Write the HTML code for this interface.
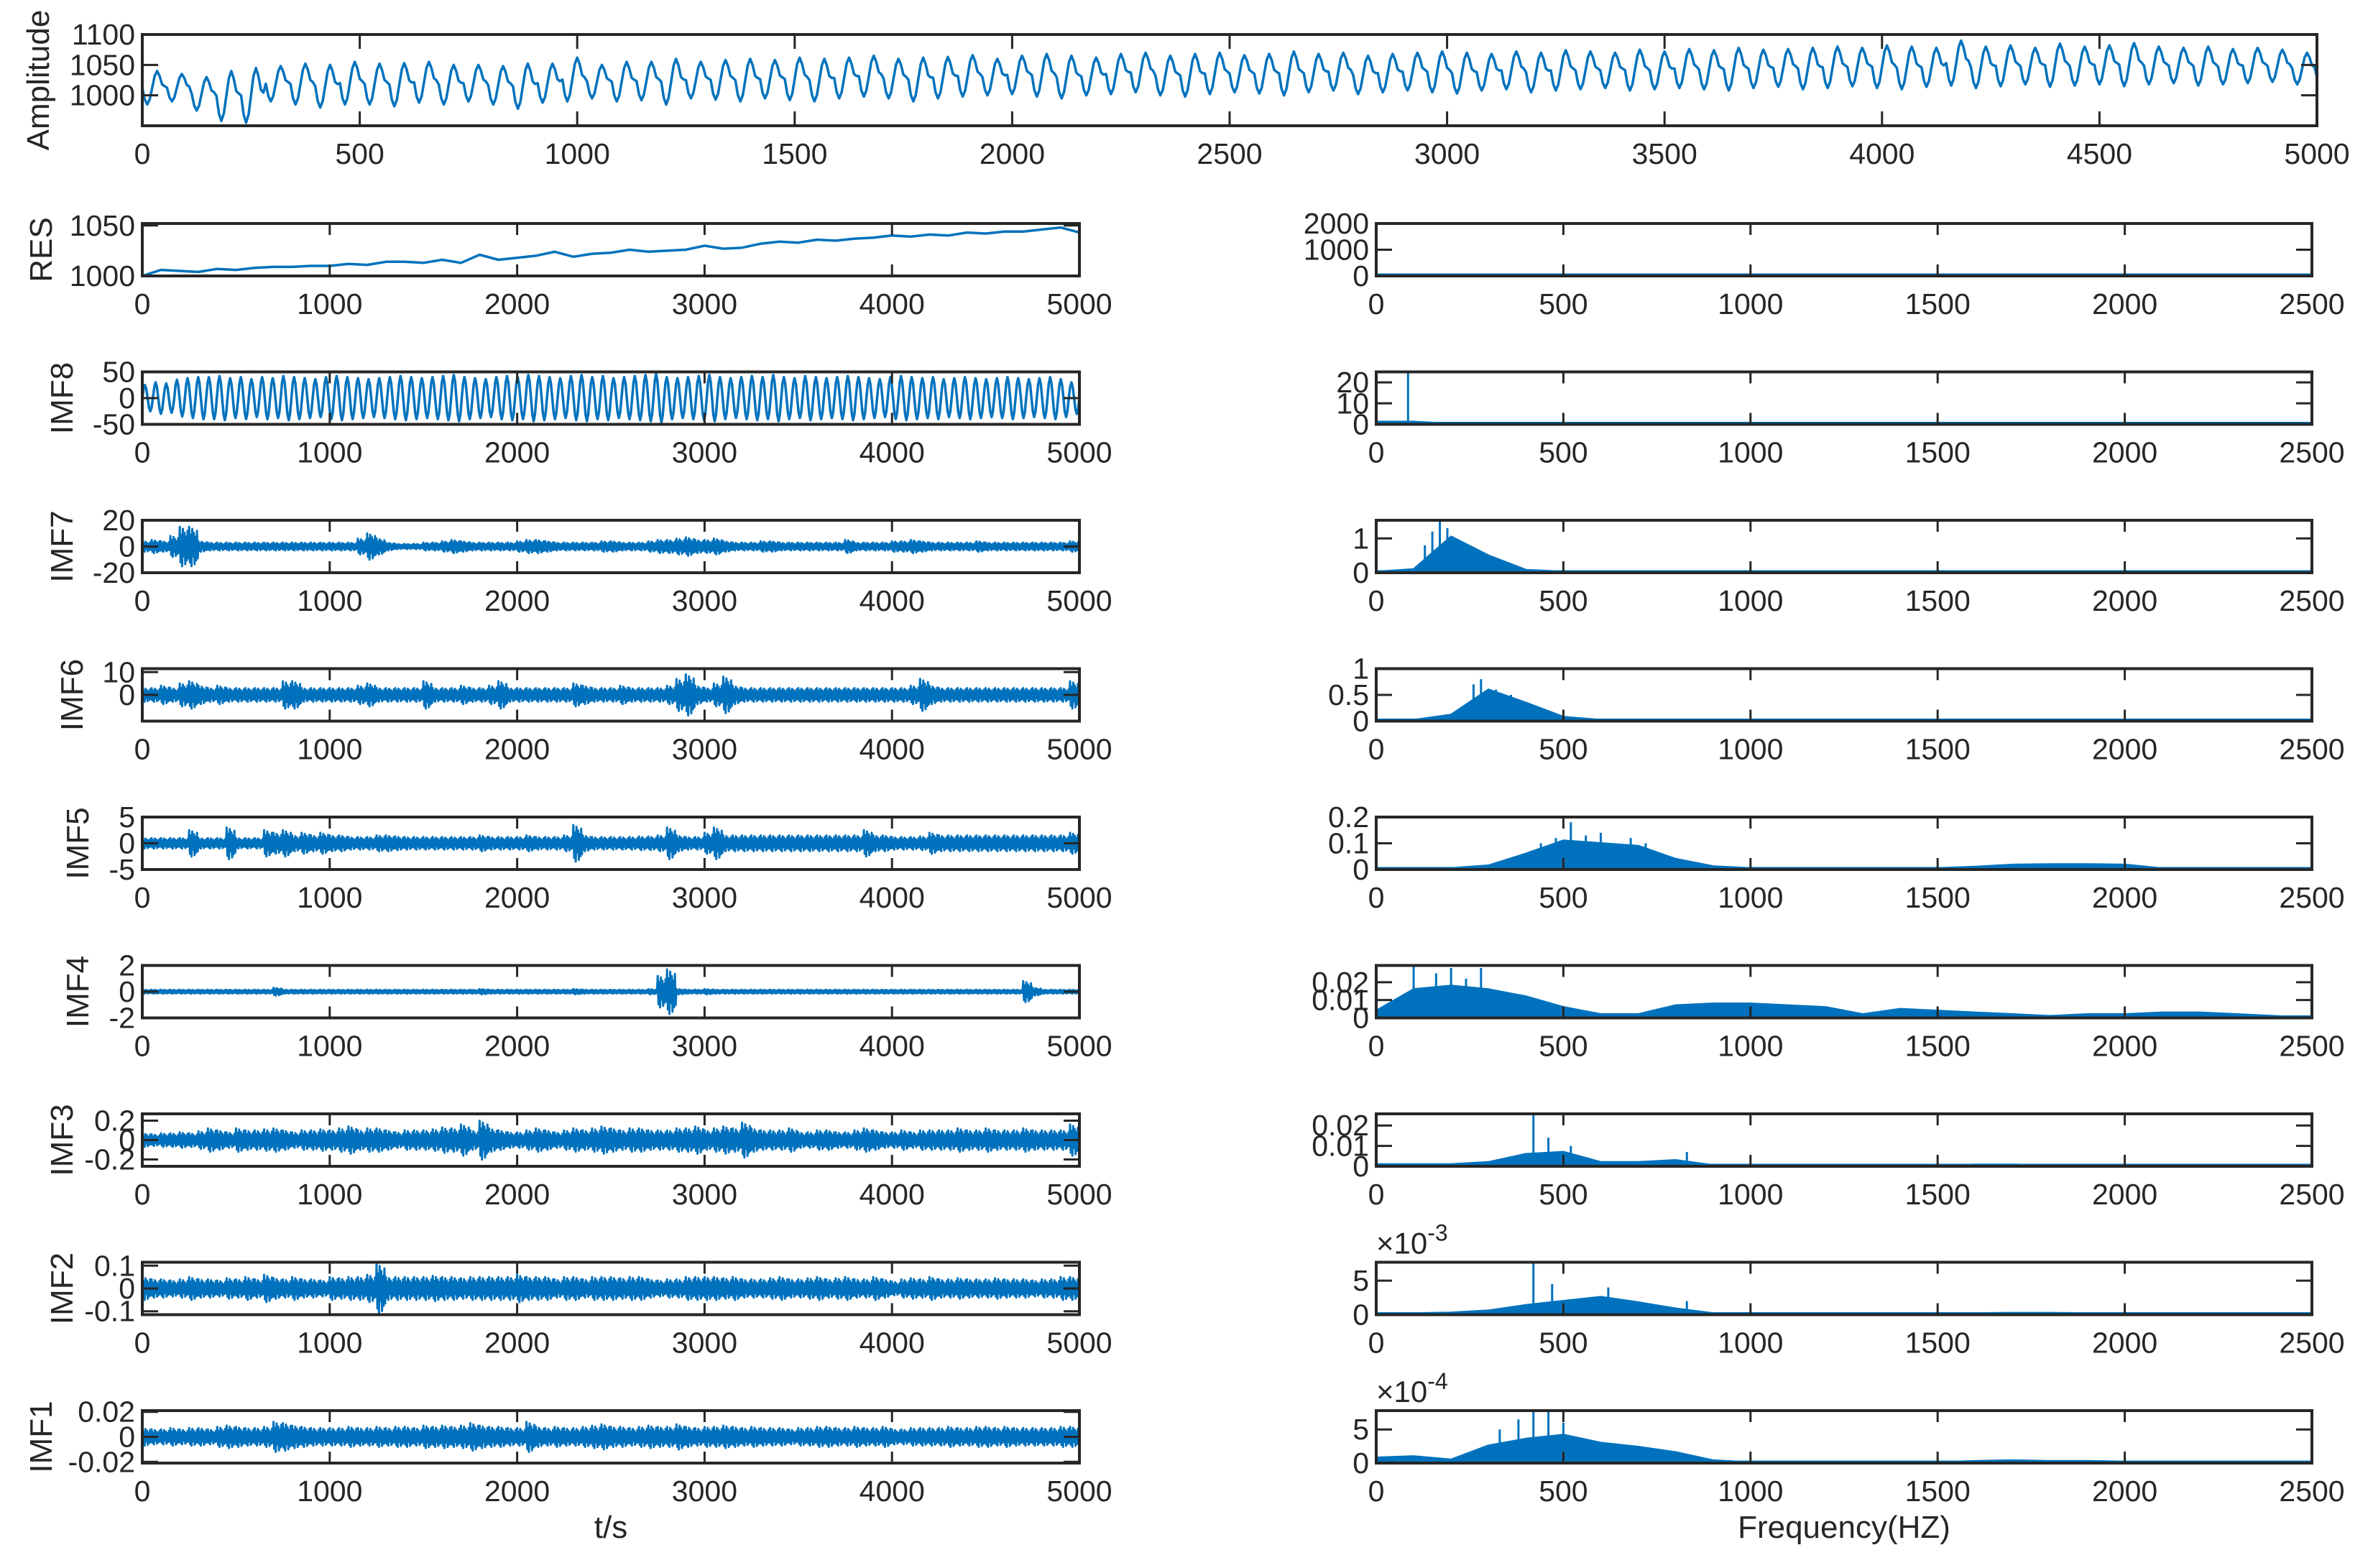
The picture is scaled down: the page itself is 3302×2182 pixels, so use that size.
<!DOCTYPE html>
<html><head><meta charset="utf-8">
<style>
html,body{margin:0;padding:0;background:#fff;}
svg{display:block;}
text{font-family:"Liberation Sans",Arial,sans-serif;fill:#262626;}
</style></head>
<body>
<svg id="fig" width="3302" height="2182" viewBox="0 0 3302 2182" xmlns="http://www.w3.org/2000/svg"></svg>
<script>
// ---------------- DATA ----------------
const topPeaks = [1040,1035,1030,1040,1045,1048,1052,1050,1055,1052,1053,1055,1050,1050,1048,1052,1052,1062,1050,1055,1055,1060,1055,1058,1060,1058,1062,1060,1062,1065,1060,1062,1063,1066,1060,1065,1068,1065,1062,1068,1070,1065,1068,1070,1066,1068,1072,1068,1070,1065,1068,1070,1072,1070,1068,1072,1070,1074,1072,1070,1075,1072,1076,1074,1078,1075,1076,1078,1080,1078,1082,1080,1078,1090,1080,1082,1078,1085,1080,1082,1086,1080,1078,1080,1076,1078,1075,1070];
const topTroughs = [985,990,975,958,955,990,985,980,985,985,982,988,985,990,985,978,988,990,995,990,992,985,995,993,990,995,992,990,995,998,995,990,995,998,1000,1002,998,995,1000,1002,1005,1000,998,1002,1005,1003,1000,1005,1008,1002,1005,1008,1005,1003,1008,1010,1005,1008,1010,1012,1008,1010,1012,1010,1008,1012,1014,1010,1012,1015,1012,1010,1014,1016,1012,1015,1018,1014,1016,1018,1015,1018,1020,1016,1018,1020,1022,1018];
const resValues = [1000,1006,1005,1004,1007,1006,1008,1009,1009,1010,1010,1012,1011,1014,1014,1013,1016,1013,1021,1016,1018,1020,1024,1019,1022,1023,1026,1024,1025,1026,1030,1027,1028,1032,1034,1033,1036,1035,1037,1038,1040,1039,1041,1040,1043,1042,1044,1044,1046,1048,1043];
const imf8Amps = [25,30,28,35,38,40,40,42,38,40,36,40,38,42,40,38,36,40,42,40,38,36,38,40,42,40,38,40,42,44,40,38,36,40,42,40,44,42,40,38,42,44,40,42,38,40,42,44,46,40,38,40,42,44,40,38,40,42,40,44,40,38,42,40,38,40,42,40,38,36,40,42,40,38,40,36,38,40,38,36,38,40,38,36,38,40,36,30];
const imf7Env = [4,5,4,8,15,15,4,3,3,3, 3,3,3,3,3,3,3,3,3,3, 3,3,3,6,10,6,3,2,2,2, 3,3,4,5,4,3,3,3,3,3, 4,5,5,4,3,3,3,3,3,4, 4,3,3,3,4,5,5,6,7,5, 5,6,4,3,3,3,4,4,3,3, 3,3,3,3,3,5,3,3,3,3, 4,4,5,4,3,3,3,3,3,4, 3,3,3,3,3,3,3,3,3,4];
const imf6Env = [3,3,4,3,5,6,4,3,4,3, 3,3,3,3,3,6,6,3,3,3, 3,3,3,4,5,3,3,3,3,3, 6,3,3,3,4,3,3,4,6,3, 3,3,3,3,3,3,5,4,3,3, 3,4,3,3,3,3,4,7,9,4, 3,5,8,4,3,3,3,3,3,3, 3,3,3,3,3,3,3,3,3,3, 3,3,4,7,4,3,3,3,3,3, 3,3,3,3,3,3,3,3,3,6];
const imf5Env = [1,1,1,1,1,2.5,1,1,1,3, 1,1,1,2.5,2,2.5,1.5,2,1.5,2, 1.5,1.5,1.2,1.2,1.2,1.5,1.5,1.3,1.2,1.2, 1.2,1.2,1.2,1.2,1.2,1.2,1.5,1.2,1.2,1.2, 1.2,1.5,1.2,1.2,1.2,1.5,3.5,1.5,1.2,1.2, 1.2,1.2,1.2,1.3,1.3,1.5,3,1.5,1.2,1.2, 2,3,1.5,1.5,1.5,1.5,1.5,1.5,1.5,1.5, 1.5,1.5,1.5,1.5,1.5,1.5,1.5,2.5,1.5,1.5, 1.2,1.2,1.2,1.3,2,1.5,1.5,1.5,1.5,1.5, 1.5,1.5,1.5,1.5,1.5,1.5,1.5,1.5,1.5,2];
const imf4Env = [0.15,0.15,0.15,0.15,0.15,0.15,0.15,0.15,0.15,0.15, 0.15,0.15,0.15,0.15,0.3,0.15,0.15,0.15,0.15,0.15, 0.15,0.15,0.15,0.15,0.15,0.15,0.15,0.15,0.15,0.15, 0.15,0.15,0.15,0.15,0.15,0.15,0.2,0.15,0.15,0.15, 0.15,0.15,0.15,0.15,0.15,0.15,0.2,0.15,0.15,0.15, 0.15,0.15,0.15,0.15,0.2,1.2,1.7,0.2,0.15,0.15, 0.2,0.15,0.15,0.15,0.15,0.15,0.15,0.15,0.15,0.15, 0.15,0.15,0.15,0.15,0.15,0.15,0.15,0.15,0.15,0.15, 0.15,0.15,0.15,0.15,0.15,0.15,0.15,0.15,0.15,0.15, 0.15,0.15,0.15,0.15,0.8,0.3,0.15,0.15,0.15,0.15];
const imf3Env = [0.07,0.06,0.07,0.07,0.08,0.07,0.09,0.12,0.1,0.08, 0.12,0.1,0.1,0.11,0.12,0.1,0.08,0.1,0.1,0.11, 0.1,0.12,0.14,0.1,0.12,0.12,0.1,0.08,0.1,0.1, 0.1,0.11,0.13,0.12,0.16,0.1,0.2,0.12,0.1,0.08, 0.08,0.1,0.12,0.1,0.08,0.1,0.12,0.1,0.12,0.14, 0.12,0.1,0.12,0.12,0.1,0.1,0.1,0.12,0.12,0.14, 0.1,0.12,0.14,0.12,0.18,0.12,0.1,0.1,0.1,0.12, 0.08,0.08,0.1,0.1,0.08,0.08,0.1,0.12,0.1,0.08, 0.08,0.1,0.08,0.1,0.1,0.1,0.1,0.12,0.1,0.1, 0.12,0.1,0.1,0.1,0.12,0.1,0.1,0.1,0.1,0.16];
const imf2Env = [0.05,0.04,0.04,0.035,0.04,0.05,0.04,0.04,0.035,0.045, 0.04,0.05,0.04,0.06,0.045,0.04,0.05,0.04,0.04,0.035, 0.05,0.045,0.05,0.05,0.06,0.11,0.05,0.05,0.05,0.05, 0.05,0.055,0.05,0.05,0.045,0.05,0.05,0.05,0.05,0.05, 0.06,0.05,0.05,0.05,0.04,0.05,0.05,0.04,0.05,0.05, 0.05,0.045,0.05,0.05,0.04,0.035,0.04,0.04,0.05,0.05, 0.05,0.05,0.045,0.05,0.04,0.04,0.04,0.045,0.05,0.04, 0.04,0.045,0.05,0.04,0.045,0.05,0.04,0.04,0.05,0.04, 0.03,0.04,0.045,0.04,0.05,0.04,0.04,0.045,0.04,0.04, 0.04,0.045,0.04,0.04,0.04,0.035,0.04,0.04,0.05,0.05];
const imf1Env = [0.007,0.006,0.006,0.007,0.006,0.007,0.007,0.006,0.008,0.009, 0.008,0.007,0.007,0.008,0.012,0.011,0.009,0.008,0.007,0.007, 0.007,0.007,0.008,0.007,0.007,0.008,0.007,0.008,0.008,0.007, 0.009,0.008,0.009,0.008,0.009,0.011,0.009,0.008,0.008,0.007, 0.007,0.012,0.008,0.007,0.008,0.007,0.007,0.008,0.009,0.01, 0.008,0.008,0.007,0.008,0.009,0.008,0.008,0.01,0.008,0.007, 0.008,0.008,0.009,0.008,0.007,0.008,0.007,0.007,0.007,0.006, 0.007,0.007,0.008,0.008,0.007,0.007,0.008,0.007,0.007,0.008, 0.006,0.006,0.007,0.007,0.007,0.007,0.008,0.007,0.007,0.008, 0.008,0.007,0.008,0.007,0.007,0.007,0.007,0.007,0.008,0.008];
// spectra envelopes, every 100 Hz from 0 to 2500 (26 values)
const resSpec   = [0,0,0,0,0,0,0,0,0,0,0,0,0,0,0,0,0,0,0,0,0,0,0,0,0,0];
const resSpikes = [[0,2000]];
const imf8Spec  = [1.2,1.2,0.3,0,0,0,0,0,0,0,0,0,0,0,0,0,0,0,0,0,0,0,0,0,0,0];
const imf8Spikes = [[85,25]];
const imf7Spec  = [0.03,0.1,1.05,0.5,0.08,0.03,0.01,0,0,0,0,0,0,0,0,0,0,0,0,0,0,0,0,0,0,0];
const imf7Spikes = [[170,1.53],[150,1.2],[190,1.3],[230,0.75],[130,0.8]];
const imf6Spec  = [0.02,0.02,0.12,0.6,0.35,0.08,0.02,0,0,0,0,0,0,0,0,0,0,0,0,0,0,0,0,0,0,0];
const imf6Spikes = [[280,0.8],[260,0.7],[320,0.6],[360,0.5]];
const imf5Spec  = [0.003,0.003,0.005,0.015,0.06,0.11,0.1,0.09,0.04,0.012,0.005,0.004,0.003,0.003,0.003,0.005,0.01,0.018,0.02,0.02,0.018,0.004,0.002,0.002,0.002,0.002];
const imf5Spikes = [[520,0.18],[600,0.14],[480,0.12],[680,0.12],[720,0.1],[440,0.1],[560,0.13]];
const imf4Spec  = [0.004,0.016,0.018,0.016,0.012,0.006,0.002,0.002,0.007,0.008,0.008,0.007,0.006,0.002,0.005,0.004,0.003,0.002,0.001,0.002,0.002,0.003,0.003,0.002,0.001,0.0];
const imf4Spikes = [[100,0.03],[200,0.028],[280,0.028],[160,0.025],[240,0.022]];
const imf3Spec  = [0.001,0.001,0.001,0.002,0.006,0.007,0.002,0.002,0.003,0.0005,0.0003,0.0003,0.0003,0.0003,0.0003,0.0003,0.0008,0.0008,0.0005,0.0005,0.0005,0.0003,0.0003,0.0003,0.0003,0.0003];
const imf3Spikes = [[420,0.0257],[460,0.014],[520,0.01],[830,0.007]];
const imf2Spec  = [0.2,0.2,0.3,0.6,1.4,2.0,2.6,1.8,0.9,0.2,0.05,0.05,0.05,0.05,0.05,0.05,0.2,0.25,0.25,0.2,0.15,0.05,0.05,0.05,0.05,0.05];
const imf2Spikes = [[420,7.7],[470,4.5],[620,4],[830,2]];
const imf1Spec  = [0.8,1.0,0.5,2.6,3.6,4.2,3.0,2.4,1.6,0.4,0.1,0.05,0.05,0.05,0.05,0.1,0.3,0.4,0.3,0.3,0.2,0.1,0.1,0.05,0.05,0.05];
const imf1Spikes = [[420,7.8],[460,7.6],[500,6],[380,6.5],[330,5]];
// tick labels
const topXTicks = [0,500,1000,1500,2000,2500,3000,3500,4000,4500,5000];
const leftXTicks = [0,1000,2000,3000,4000,5000];
const rightXTicks = [0,500,1000,1500,2000,2500];
const topYTicks = [1000,1050,1100];

// ---------------- DRAWING ----------------
const svg = document.getElementById('fig');
const NS = 'http://www.w3.org/2000/svg';
const BLUE = '#0072BD', AX = '#262626';
let clipId = 0;
function mk(tag, attrs, parent) {
  const e = document.createElementNS(NS, tag);
  for (const k in attrs) e.setAttribute(k, attrs[k]);
  (parent || svg).appendChild(e);
  return e;
}
function fmt(v){ return String(v); }
const defs = mk('defs', {});

function makeAxes(o) {
  const g = mk('g', {});
  
  
  const sx = v => o.x0 + (v - o.xmin) / (o.xmax - o.xmin) * (o.x1 - o.x0);
  const sy = v => o.y1 - (v - o.ymin) / (o.ymax - o.ymin) * (o.y1 - o.y0);
  const cid = 'clip' + (clipId++);
  const cp = mk('clipPath', {id: cid}, defs);
  mk('rect', {x:o.x0, y:o.y0 - 2, width:o.x1 - o.x0, height:o.y1 - o.y0 + 2}, cp);
  const plot = mk('g', {'clip-path': `url(#${cid})`}, g);
  
  
  const axg = mk('g', {}, g);
  
  
  const tl = o.tickLen || 18;
  o.xticks.forEach(t => {
    const x = sx(t);
    mk('line', {x1:x, y1:o.y1, x2:x, y2:o.y1 - tl, stroke:AX, 'stroke-width':3}, axg);
    mk('line', {x1:x, y1:o.y0, x2:x, y2:o.y0 + tl, stroke:AX, 'stroke-width':3}, axg);
    const tx = mk('text', {x:x, y:o.y1 + 53, 'font-size':41, 'text-anchor':'middle'}, axg);
    
    
    tx.textContent = fmt(t);
  });
  o.yticks.forEach((t, i) => {
    const y = sy(t);
    mk('line', {x1:o.x0, y1:y, x2:o.x0 + 22, y2:y, stroke:AX, 'stroke-width':3}, axg);
    mk('line', {x1:o.x1, y1:y, x2:o.x1 - 22, y2:y, stroke:AX, 'stroke-width':3}, axg);
    const ty = mk('text', {x:o.x0 - 10, y:y + 14, 'font-size':41, 'text-anchor':'end'}, axg);
    
    
    ty.textContent = o.ylabels ? o.ylabels[i] : fmt(t);
  });
  mk('rect', {x:o.x0, y:o.y0, width:o.x1 - o.x0, height:o.y1 - o.y0, fill:'none', stroke:AX, 'stroke-width':4}, axg);
  if (o.ylabel) {
    const yl = mk('text', {x:0, y:0, 'font-size':44, 'text-anchor':'middle', transform:`translate(${o.ylx},${(o.y0+o.y1)/2}) rotate(-90)`}, axg);
    
    
    yl.textContent = o.ylabel;
  }
  if (o.exponent) {
    const ex = mk('text', {x:o.x0, y:o.y0 - 12, 'font-size':42}, axg);
    
    
    ex.textContent = '\u00d710';
    const sup = mk('tspan', {dy:-18, 'font-size':32}, ex);
    sup.textContent = o.exponent;
  }
  return {plot, sx, sy};
}

function polyline(parent, pts, name, w) {
  const p = mk('polyline', {points: pts.map(p => p[0].toFixed(1)+','+p[1].toFixed(1)).join(' '), fill:'none', stroke:BLUE, 'stroke-width':w||3, 'stroke-linejoin':'round'}, parent);
  
  
  return p;
}

const cycleShape = [[0,0.5],[0.1,0.15],[0.2,0],[0.3,0.15],[0.4,0.5],[0.5,0.85],[0.6,1],[0.7,0.85],[0.8,0.6],[0.9,0.55]];
{
  const a = makeAxes({name:'original-signal-panel', x0:198, x1:3224, y0:48, y1:175, xmin:0, xmax:5000, ymin:950, ymax:1100,
    xticks:topXTicks, yticks:topYTicks, ylabel:'Amplitude', ylx:68, tickLen:20});
  const n = topPeaks.length, per = 5000 / n;
  const pts = [];
  for (let i = 0; i < n; i++) {
    cycleShape.forEach(s => {
      pts.push([a.sx(per*(i + s[0])), a.sy(topTroughs[i] + s[1]*(topPeaks[i]-topTroughs[i]))]);
    });
  }
  pts.push([a.sx(5000), a.sy(1030)]);
  polyline(a.plot, pts, 'original-signal-line', 3.5);
}

const LX0 = 198, LX1 = 1502, RX0 = 1915, RX1 = 3217, T0 = 311, DT = 206.5, H = 73;
const rows = [
  {lab:'RES', ylx:72, yl:[1000,1052], yt:[1000,1050], sl:[0,2000], st:[0,1000,2000], spec:resSpec, spikes:resSpikes},
  {lab:'IMF8', ylx:101, yl:[-50,50], yt:[-50,0,50], sl:[0,25], st:[0,10,20], spec:imf8Spec, spikes:imf8Spikes},
  {lab:'IMF7', ylx:101, yl:[-20,20], yt:[-20,0,20], sl:[0,1.53], st:[0,1], spec:imf7Spec, spikes:imf7Spikes, env:imf7Env},
  {lab:'IMF6', ylx:115, yl:[-11.5,11.5], yt:[0,10], sl:[0,1], st:[0,0.5,1], spec:imf6Spec, spikes:imf6Spikes, env:imf6Env},
  {lab:'IMF5', ylx:123, yl:[-5,5], yt:[-5,0,5], sl:[0,0.2], st:[0,0.1,0.2], spec:imf5Spec, spikes:imf5Spikes, env:imf5Env},
  {lab:'IMF4', ylx:123, yl:[-2,2], yt:[-2,0,2], sl:[0,0.0294], st:[0,0.01,0.02], spec:imf4Spec, spikes:imf4Spikes, env:imf4Env},
  {lab:'IMF3', ylx:101, yl:[-0.27,0.27], yt:[-0.2,0,0.2], sl:[0,0.0257], st:[0,0.01,0.02], spec:imf3Spec, spikes:imf3Spikes, env:imf3Env},
  {lab:'IMF2', ylx:101, yl:[-0.115,0.115], yt:[-0.1,0,0.1], sl:[0,7.7], st:[0,5], spec:imf2Spec, spikes:imf2Spikes, env:imf2Env, exp:'-3'},
  {lab:'IMF1', ylx:72, yl:[-0.021,0.021], yt:[-0.02,0,0.02], sl:[0,7.8], st:[0,5], spec:imf1Spec, spikes:imf1Spikes, env:imf1Env, exp:'-4'}
];
const zig = [1,-0.8,0.6,-1,0.9,-0.5,0.7,-0.9,0.5,-0.7,0.8,-0.6];
const sineShape = [0,0.7,1,0.7,0,-0.7,-1,-0.7];

rows.forEach((r, i) => {
  const y0 = T0 + i*DT, y1 = y0 + H;
  const key = r.lab.toLowerCase();
  const a = makeAxes({name:key+'-time-panel', x0:LX0, x1:LX1, y0, y1, xmin:0, xmax:5000, ymin:r.yl[0], ymax:r.yl[1],
    xticks:leftXTicks, yticks:r.yt, ylabel:r.lab, ylx:r.ylx, tickLen:16});
  if (r.lab === 'RES') {
    const step = 5000 / (resValues.length - 1);
    polyline(a.plot, resValues.map((v,k) => [a.sx(k*step), a.sy(v)]), 'res-line', 3.5);
  } else if (r.lab === 'IMF8') {
    const per = 5000 / imf8Amps.length, pts = [];
    imf8Amps.forEach((amp,k) => {
      sineShape.forEach((s,j) => pts.push([a.sx(per*(k + j/sineShape.length)), a.sy(amp*s)]));
    });
    pts.push([a.sx(5000), a.sy(0)]);
    polyline(a.plot, pts, 'imf8-line', 3.5);
  } else {
    const step = 5000 / r.env.length, pts = [];
    r.env.forEach((e,k) => {
      zig.forEach((z,j) => pts.push([a.sx(k*step + step*j/zig.length), a.sy(e*z)]));
    });
    polyline(a.plot, pts, key+'-line', 3);
  }
  const ylabs = r.st.map(v => String(v));
  const b = makeAxes({name:key+'-spectrum-panel', x0:RX0, x1:RX1, y0, y1, xmin:0, xmax:2500, ymin:r.sl[0], ymax:r.sl[1],
    xticks:rightXTicks, yticks:r.st, ylabels:ylabs, tickLen:16, exponent:r.exp});
  const sstep = 2500 / (r.spec.length - 1);
  const spts = r.spec.map((v,k) => [b.sx(k*sstep), b.sy(v)]);
  const area = mk('polygon', {points: [[b.sx(0), b.sy(0)]].concat(spts, [[b.sx(2500), b.sy(0)]]).map(p=>p[0].toFixed(1)+','+p[1].toFixed(1)).join(' '), fill:BLUE, stroke:BLUE, 'stroke-width':3, 'stroke-linejoin':'round'}, b.plot);
  
  
  mk('line', {x1:b.sx(0), y1:b.sy(0)-1.5, x2:b.sx(2500), y2:b.sy(0)-1.5, stroke:BLUE, 'stroke-width':4}, b.plot);
  r.spikes.forEach(s => {
    const l = mk('line', {x1:b.sx(s[0]), y1:b.sy(0), x2:b.sx(s[0]), y2:b.sy(s[1]), stroke:BLUE, 'stroke-width':3}, b.plot);
    
    
  });
});

const t1 = mk('text', {x:850, y:2140, 'font-size':44, 'text-anchor':'middle'});


t1.textContent = 't/s';
const t2 = mk('text', {x:2566, y:2140, 'font-size':44, 'text-anchor':'middle'});


t2.textContent = 'Frequency(HZ)';
</script>
</body></html>
